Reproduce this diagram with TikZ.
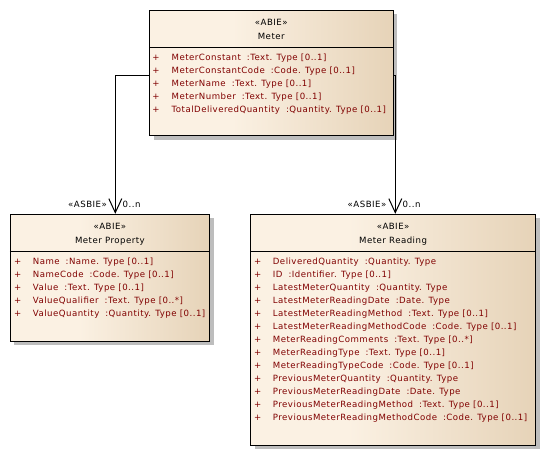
\documentclass[tikz,border=0pt]{standalone}
\usepackage{fontspec}
\setmainfont{DejaVu Sans}
\newfontfamily\umlfont[LetterSpace=5.5]{DejaVu Sans}
\usetikzlibrary{arrows.meta,shadows}
\definecolor{attrred}{HTML}{800000}
\definecolor{creamL}{HTML}{FBF1E3}
\definecolor{tanR}{HTML}{E6D3B8}
\definecolor{shadowgray}{HTML}{BDBDBD}
\pgfdeclarehorizontalshading{umlfill}{100bp}{color(0bp)=(creamL); color(25bp)=(creamL); color(42bp)=(creamL); color(75bp)=(tanR); color(100bp)=(tanR)}
\newcommand\attrgap{\hspace{6pt}}
\tikzset{
  umlbox/.style={draw=black, line width=1pt, shading=umlfill, inner sep=0pt,
    drop shadow={shadow xshift=4pt, shadow yshift=-4pt, fill=shadowgray, opacity=1}},
  txt/.style={font=\umlfont\fontsize{8.6}{10}\selectfont, inner sep=0pt},
  hdr/.style={txt, text=black, anchor=base},
  attr/.style={txt, text=attrred, anchor=base west},
  plus/.style={txt, text=attrred, anchor=base},
  role/.style={txt, text=black},
  sepline/.style={draw=black, line width=1pt},
  assoc/.style={draw=black, line width=1pt, -{Straight Barb[length=14pt,width=13pt,line width=1pt]}}
}
\begin{document}
\begin{tikzpicture}[x=1pt,y=-1pt]
\useasboundingbox (0,0) rectangle (546,456);
% boxes
\node[umlbox, minimum width=243.5pt, minimum height=125.5pt] (meter) at (271.25,72.75) {};
\node[umlbox, minimum width=199.2pt, minimum height=126.7pt] (prop) at (109.9,277.65) {};
\node[umlbox, minimum width=284.8pt, minimum height=230.7pt] (read) at (393.1,329.65) {};
% separators
\draw[sepline] (meter.west |- 0,47.5) -- (meter.east |- 0,47.5);
\draw[sepline] (prop.west |- 0,251) -- (prop.east |- 0,251);
\draw[sepline] (read.west |- 0,251) -- (read.east |- 0,251);
% headers
\node[hdr] (mst) at (271.25,25.5) {«ABIE»};
\node[hdr] (mnm) at (271.25,39.5) {Meter};
\node[hdr] (pst) at (109.9,229.4) {«ABIE»};
\node[hdr] (pnm) at (109.9,243.4) {Meter Property};
\node[hdr] (rst) at (393.1,229.4) {«ABIE»};
\node[hdr] (rnm) at (393.1,243.4) {Meter Reading};
% Meter attributes
\foreach \t [count=\i] in {
  {MeterConstant\attrgap:Text. Type [0..1]},
  {MeterConstantCode\attrgap:Code. Type [0..1]},
  {MeterName\attrgap:Text. Type [0..1]},
  {MeterNumber\attrgap:Text. Type [0..1]},
  {TotalDeliveredQuantity\attrgap:Quantity. Type [0..1]}}{
  \node[plus] (mp\i) at (156,{60.5+13.1*(\i-1)}) {+};
  \node[attr] (ma\i) at (171.5,{60.5+13.1*(\i-1)}) {\t};
}
% Meter Property attributes
\foreach \t [count=\i] in {
  {Name\attrgap:Name. Type [0..1]},
  {NameCode\attrgap:Code. Type [0..1]},
  {Value\attrgap:Text. Type [0..1]},
  {ValueQualifier\attrgap:Text. Type [0..*]},
  {ValueQuantity\attrgap:Quantity. Type [0..1]}}{
  \node[plus] (pp\i) at (17.7,{264.9+13*(\i-1)}) {+};
  \node[attr] (pa\i) at (32.7,{264.9+13*(\i-1)}) {\t};
}
% Meter Reading attributes
\foreach \t [count=\i] in {
  {DeliveredQuantity\attrgap:Quantity. Type},
  {ID\attrgap:Identifier. Type [0..1]},
  {LatestMeterQuantity\attrgap:Quantity. Type},
  {LatestMeterReadingDate\attrgap:Date. Type},
  {LatestMeterReadingMethod\attrgap:Text. Type [0..1]},
  {LatestMeterReadingMethodCode\attrgap:Code. Type [0..1]},
  {MeterReadingComments\attrgap:Text. Type [0..*]},
  {MeterReadingType\attrgap:Text. Type [0..1]},
  {MeterReadingTypeCode\attrgap:Code. Type [0..1]},
  {PreviousMeterQuantity\attrgap:Quantity. Type},
  {PreviousMeterReadingDate\attrgap:Date. Type},
  {PreviousMeterReadingMethod\attrgap:Text. Type [0..1]},
  {PreviousMeterReadingMethodCode\attrgap:Code. Type [0..1]}}{
  \node[plus] (rp\i) at (257.7,{264.9+13*(\i-1)}) {+};
  \node[attr] (ra\i) at (272.7,{264.9+13*(\i-1)}) {\t};
}
% connectors
\draw[assoc] ([yshift=-2.5pt]meter.west) -| ([xshift=5.4pt]prop.north);
\draw[assoc] ([yshift=-2.5pt]meter.east) -| ([xshift=2.2pt]read.north);
% role labels
\node[role, anchor=base east] (l1) at (107,207.5) {«ASBIE»};
\node[role, anchor=base west] (m1) at (122.5,207.5) {0..n};
\node[role, anchor=base east] (l2) at (386.5,207.5) {«ASBIE»};
\node[role, anchor=base west] (m2) at (402.5,207.5) {0..n};
\end{tikzpicture}
\end{document}
